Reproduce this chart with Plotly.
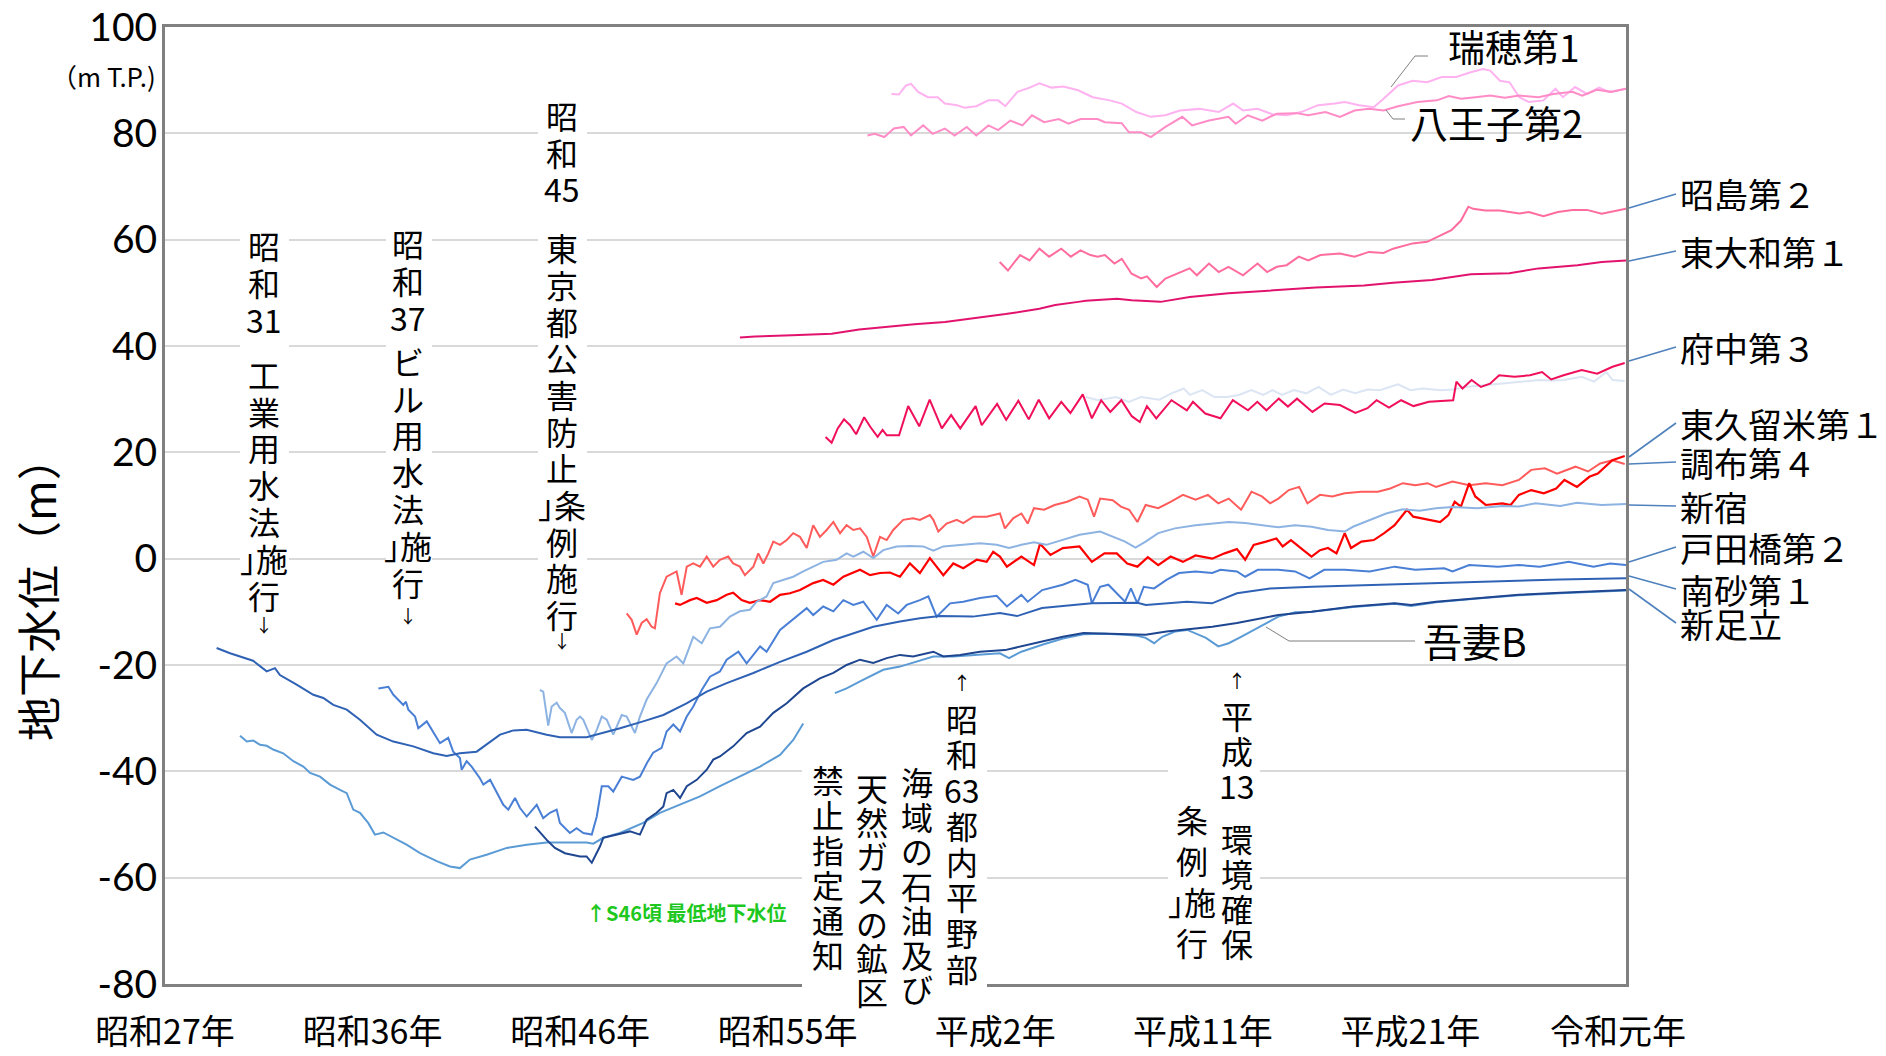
import plotly.graph_objects as go

# ---------------------------------------------------------------------------
# Groundwater level records (year, level in m T.P.) for each observation well
# ---------------------------------------------------------------------------
mizuho_1 = [(1985.50, 87.4), (1985.84, 87.3), (1986.17, 89.0), (1986.40, 89.3), (1986.73, 87.8), (1987.18, 86.8),
            (1987.63, 86.8), (1987.96, 85.6), (1988.52, 85.3), (1988.86, 84.8), (1989.41, 85.1), (1989.97, 86.2),
            (1990.42, 86.2), (1990.75, 85.1), (1991.31, 87.8), (1991.87, 88.6), (1992.32, 89.4), (1992.88, 88.6),
            (1993.43, 88.8), (1994.11, 88.1), (1994.78, 86.8), (1995.56, 86.2), (1996.12, 85.6), (1996.79, 84.0),
            (1997.46, 83.1), (1998.13, 83.4), (1998.80, 84.3), (1999.70, 84.6), (2000.59, 84.0), (2001.26, 85.6),
            (2001.71, 84.3), (2002.38, 84.6), (2003.05, 83.6), (2003.72, 83.4), (2004.39, 84.0), (2005.17, 85.3),
            (2005.95, 85.6), (2006.40, 85.9), (2007.07, 85.3), (2007.74, 84.9), (2008.19, 86.5), (2008.86, 89.0),
            (2009.53, 89.9), (2010.20, 89.6), (2010.87, 90.6), (2011.54, 90.6), (2012.21, 91.5), (2012.77, 92.1),
            (2013.11, 91.8), (2013.56, 89.9), (2014.00, 89.6), (2014.45, 86.8), (2014.89, 85.9), (2015.56, 86.2),
            (2016.12, 88.4), (2016.46, 86.8), (2017.02, 88.7), (2017.57, 87.4), (2018.13, 88.6), (2018.58, 87.8),
            (2019.37, 88.4)]

hachioji_2 = [(1984.39, 79.6), (1984.72, 79.9), (1985.17, 79.3), (1985.61, 80.9), (1986.06, 81.2), (1986.40, 79.6),
              (1986.96, 81.5), (1987.40, 79.9), (1987.96, 80.9), (1988.41, 79.6), (1988.97, 81.2), (1989.41, 79.6),
              (1989.97, 81.5), (1990.42, 80.6), (1990.98, 82.4), (1991.54, 81.5), (1991.98, 83.4), (1992.54, 82.1),
              (1993.21, 82.7), (1993.66, 81.8), (1994.22, 82.7), (1995.00, 82.7), (1995.34, 82.1), (1996.12, 81.9),
              (1996.45, 80.2), (1997.01, 80.2), (1997.46, 79.3), (1998.13, 81.2), (1998.91, 83.1), (1999.36, 81.5),
              (2000.14, 82.4), (2001.04, 83.1), (2001.37, 81.8), (2001.93, 83.4), (2002.60, 82.4), (2003.27, 83.7),
              (2004.17, 83.8), (2004.72, 83.4), (2005.51, 84.0), (2006.18, 83.1), (2006.85, 84.3), (2007.52, 84.6),
              (2008.19, 84.3), (2008.86, 85.1), (2009.75, 85.9), (2010.65, 86.2), (2011.20, 87.0), (2011.76, 86.5),
              (2012.43, 86.8), (2013.11, 87.1), (2013.78, 86.7), (2014.45, 87.1), (2015.34, 86.8), (2016.01, 87.4),
              (2016.90, 87.8), (2017.35, 87.1), (2018.02, 88.2), (2018.69, 87.8), (2019.37, 88.4)]

akishima_2 = [(1990.49, 55.8), (1990.87, 54.2), (1991.43, 57.1), (1991.87, 56.1), (1992.32, 58.3), (1992.77, 56.8),
              (1993.33, 58.3), (1993.77, 56.8), (1994.22, 58.0), (1994.67, 57.1), (1995.00, 56.8), (1995.34, 57.1),
              (1995.78, 55.5), (1996.12, 56.4), (1996.57, 53.6), (1997.01, 52.7), (1997.28, 53.1), (1997.73, 51.1),
              (1998.13, 52.7), (1998.69, 53.6), (1999.25, 54.6), (1999.58, 53.3), (2000.14, 55.5), (2000.59, 53.9),
              (2001.04, 54.9), (2001.71, 53.3), (2002.38, 55.5), (2002.82, 53.9), (2003.27, 54.9), (2003.72, 55.2),
              (2004.28, 56.8), (2004.72, 56.1), (2005.28, 57.1), (2006.18, 57.4), (2006.85, 56.8), (2007.52, 57.7),
              (2008.19, 57.5), (2008.63, 58.3), (2009.53, 59.3), (2010.20, 59.6), (2010.65, 60.5), (2011.32, 61.8),
              (2011.76, 63.6), (2012.10, 66.2), (2012.32, 65.8), (2012.88, 65.5), (2013.55, 65.5), (2014.45, 64.9),
              (2014.89, 65.2), (2015.56, 64.4), (2016.23, 65.2), (2016.90, 65.6), (2017.57, 65.6), (2018.25, 64.9),
              (2019.37, 65.8)]

higashiyamato_1 = [(1978.51, 41.6), (1979.21, 41.8), (1980.91, 42.0), (1982.74, 42.3), (1984.01, 43.1),
                   (1985.14, 43.6), (1986.55, 44.1), (1987.97, 44.5), (1988.86, 45.0), (1989.38, 45.2),
                   (1990.76, 46.0), (1992.32, 47.0), (1993.05, 47.7), (1994.11, 48.3), (1994.46, 48.5),
                   (1995.90, 48.9), (1996.57, 48.6), (1997.91, 48.3), (1999.25, 49.2), (2001.04, 49.9),
                   (2003.05, 50.4), (2005.06, 51.0), (2007.29, 51.4), (2008.63, 51.9), (2010.42, 52.4),
                   (2012.21, 53.5), (2013.99, 53.7), (2015.34, 54.6), (2017.13, 55.2), (2018.25, 55.8),
                   (2019.37, 56.1)]

fuchu_3 = [(1982.46, 22.9), (1982.74, 21.8), (1983.02, 24.5), (1983.31, 26.2), (1983.59, 25.1), (1983.87, 23.4),
           (1984.24, 26.6), (1984.52, 24.8), (1984.86, 22.9), (1985.09, 24.2), (1985.28, 23.2), (1985.85, 23.2),
           (1986.27, 28.7), (1986.78, 24.9), (1987.26, 29.9), (1987.82, 24.5), (1988.25, 27.0), (1988.67, 24.5),
           (1989.38, 28.7), (1989.66, 25.1), (1990.37, 29.1), (1990.79, 26.1), (1991.35, 29.7), (1991.83, 26.2),
           (1992.29, 29.9), (1992.77, 26.4), (1993.33, 29.5), (1993.75, 27.4), (1994.32, 30.9), (1994.74, 26.4),
           (1995.17, 29.8), (1995.59, 27.6), (1996.10, 29.8), (1996.58, 26.8), (1996.95, 25.7), (1997.28, 28.7),
           (1997.71, 26.4), (1998.41, 29.8), (1999.12, 27.9), (1999.40, 29.5), (1999.97, 27.3), (2000.67, 26.4),
           (2001.24, 29.8), (2001.94, 27.9), (2002.37, 29.5), (2002.79, 27.9), (2003.36, 30.1), (2003.78, 28.6),
           (2004.20, 30.1), (2004.91, 27.6), (2005.47, 29.2), (2006.18, 28.9), (2006.89, 27.4), (2007.45, 28.3),
           (2007.87, 29.8), (2008.44, 28.4), (2009.00, 29.8), (2009.57, 28.7), (2010.28, 29.5), (2010.98, 29.7),
           (2011.40, 29.8), (2011.55, 33.3), (2011.83, 32.0), (2012.25, 33.6), (2012.68, 32.3), (2013.10, 32.9),
           (2013.52, 34.5), (2014.23, 34.2), (2014.94, 34.5), (2015.50, 35.1), (2015.92, 33.7), (2016.49, 34.5),
           (2017.33, 35.5), (2018.04, 34.8), (2018.75, 36.1), (2019.31, 36.8)]

pale_well = [(1994.46, 30.4), (1995.03, 29.8), (1995.87, 30.4), (1996.44, 29.5), (1997.00, 30.4), (1997.85, 29.9),
             (1998.41, 31.1), (1998.98, 32.0), (1999.26, 30.8), (1999.83, 31.7), (2000.39, 30.4), (2000.96, 30.4),
             (2001.52, 30.8), (2002.09, 31.7), (2002.65, 30.8), (2003.07, 31.7), (2003.50, 30.8), (2004.06, 31.7),
             (2004.63, 31.1), (2005.19, 32.3), (2005.76, 30.8), (2006.32, 31.8), (2006.89, 31.1), (2007.45, 31.8),
             (2008.02, 31.7), (2008.86, 32.8), (2009.43, 31.7), (2010.00, 32.0), (2010.84, 31.7), (2011.40, 31.8),
             (2011.97, 32.3), (2012.82, 32.6), (2013.67, 32.9), (2014.51, 33.3), (2015.36, 33.6), (2016.07, 33.5),
             (2016.49, 33.6), (2017.33, 34.2), (2017.90, 33.3), (2018.47, 35.1), (2018.75, 33.6), (2019.31, 33.4)]

chofu_4 = [(1973.29, -10.3), (1973.52, -11.5), (1973.75, -14.3), (1973.98, -12.1), (1974.21, -11.4),
           (1974.44, -12.8), (1974.59, -13.1), (1974.82, -6.5), (1975.13, -3.4), (1975.44, -2.7), (1975.59, -2.4),
           (1975.82, -6.8), (1976.06, -1.5), (1976.36, -0.9), (1976.67, -1.5), (1976.98, 0.4), (1977.28, -1.5),
           (1977.59, -0.2), (1977.97, 0.4), (1978.20, -0.9), (1978.51, -1.5), (1978.74, -3.1), (1979.13, -1.5),
           (1979.36, 1.0), (1979.59, -0.9), (1979.82, 1.0), (1980.05, 3.2), (1980.36, 2.6), (1980.67, 3.5),
           (1980.97, 4.8), (1981.28, 4.1), (1981.59, 2.0), (1981.89, 6.3), (1982.20, 4.1), (1982.51, 5.4),
           (1982.82, 6.9), (1983.13, 4.8), (1983.43, 6.3), (1983.74, 5.4), (1984.05, 5.7), (1984.36, 4.1),
           (1984.66, 0.4), (1984.97, 4.1), (1985.28, 3.5), (1985.58, 5.4), (1986.04, 7.3), (1986.50, 7.6),
           (1986.81, 7.3), (1987.27, 8.2), (1987.43, 7.3), (1987.66, 5.1), (1988.04, 6.6), (1988.51, 7.3),
           (1988.81, 6.7), (1989.27, 7.9), (1989.89, 7.9), (1990.50, 8.5), (1990.73, 5.7), (1991.11, 7.6),
           (1991.49, 8.5), (1991.78, 6.6), (1992.07, 9.5), (1992.54, 9.2), (1993.02, 10.1), (1993.60, 10.7),
           (1994.17, 11.7), (1994.55, 11.1), (1994.84, 7.9), (1995.12, 11.3), (1995.70, 11.0), (1996.08, 9.8),
           (1996.46, 9.2), (1996.84, 6.9), (1997.22, 10.1), (1997.80, 9.5), (1998.37, 10.7), (1998.94, 12.0),
           (1999.52, 11.1), (2000.09, 12.0), (2000.57, 10.4), (2001.05, 11.3), (2001.62, 9.2), (2002.10, 12.6),
           (2002.58, 11.7), (2002.96, 10.4), (2003.34, 11.3), (2003.82, 12.9), (2004.30, 13.5), (2004.68, 10.4),
           (2005.26, 12.0), (2005.83, 11.7), (2006.40, 12.3), (2007.17, 12.6), (2007.93, 12.6), (2008.50, 13.2),
           (2009.08, 14.2), (2009.65, 13.8), (2010.22, 14.2), (2010.61, 13.5), (2011.37, 14.5), (2012.14, 13.8),
           (2012.90, 14.2), (2013.67, 13.8), (2014.43, 14.8), (2015.00, 16.7), (2015.63, 17.0), (2016.19, 16.0),
           (2017.04, 17.3), (2017.62, 16.4), (2018.18, 17.9), (2018.74, 18.5), (2019.31, 17.8)]

higashikurume_1 = [(1975.52, -8.4), (1975.75, -8.7), (1976.21, -7.8), (1976.52, -7.4), (1976.98, -8.3),
                   (1977.44, -7.8), (1977.90, -6.8), (1978.20, -6.4), (1978.59, -7.8), (1978.97, -8.3),
                   (1979.44, -7.8), (1979.90, -8.1), (1980.36, -6.8), (1980.82, -6.5), (1981.28, -5.9),
                   (1981.59, -5.3), (1981.89, -4.6), (1982.35, -4.0), (1982.82, -4.9), (1983.28, -3.4),
                   (1983.74, -2.7), (1984.05, -2.1), (1984.51, -3.1), (1984.97, -2.7), (1985.43, -2.6),
                   (1985.89, -3.4), (1986.35, -0.9), (1986.81, -2.7), (1987.27, 0.1), (1987.89, -3.1),
                   (1988.35, -0.9), (1988.81, -1.8), (1989.43, -0.2), (1989.89, -0.6), (1990.19, 1.3),
                   (1990.50, 0.4), (1990.82, -1.5), (1991.49, 0.4), (1992.07, -1.2), (1992.35, 2.8),
                   (1992.83, 0.7), (1993.40, 2.0), (1994.17, 2.3), (1994.74, -0.6), (1995.32, 1.0),
                   (1995.89, 1.0), (1996.37, -0.9), (1996.84, -1.5), (1997.32, 0.3), (1997.80, -1.2),
                   (1998.37, 0.4), (1998.94, -0.6), (1999.52, 0.6), (2000.29, 0.0), (2000.86, 1.0),
                   (2001.43, 1.8), (2001.81, -0.2), (2002.20, 2.6), (2002.77, 3.2), (2003.25, 3.8),
                   (2003.54, 2.3), (2003.92, 3.5), (2004.49, 1.6), (2004.87, 0.4), (2005.26, 1.6),
                   (2005.63, 2.0), (2006.02, 1.0), (2006.40, 4.8), (2006.69, 2.0), (2007.17, 3.2),
                   (2007.74, 3.5), (2008.22, 4.8), (2008.70, 6.3), (2009.27, 9.2), (2009.56, 7.9),
                   (2010.22, 7.3), (2010.80, 6.9), (2011.18, 8.2), (2011.47, 10.7), (2011.76, 9.8),
                   (2012.14, 14.2), (2012.42, 11.7), (2012.90, 10.1), (2013.67, 10.4), (2014.05, 10.1),
                   (2014.43, 12.0), (2015.00, 12.9), (2015.58, 12.3), (2016.15, 13.2), (2016.53, 14.8),
                   (2017.11, 13.5), (2017.68, 15.4), (2018.07, 16.0), (2018.74, 18.5), (2019.31, 19.3)]

shinjuku = [(1969.29, -24.7), (1969.44, -25.0), (1969.67, -31.4), (1969.83, -27.8), (1970.06, -27.1),
            (1970.21, -28.1), (1970.44, -29.0), (1970.75, -32.8), (1970.98, -30.3), (1971.14, -29.7),
            (1971.29, -30.3), (1971.68, -34.1), (1971.91, -32.2), (1972.14, -29.7), (1972.37, -30.3),
            (1972.67, -33.1), (1973.06, -29.4), (1973.29, -29.7), (1973.67, -32.8), (1973.90, -29.7),
            (1974.21, -26.5), (1974.67, -23.4), (1975.13, -19.7), (1975.59, -18.4), (1975.90, -19.7),
            (1976.36, -14.7), (1976.75, -15.9), (1977.13, -13.1), (1977.59, -12.8), (1978.05, -10.9),
            (1978.51, -9.9), (1978.97, -9.6), (1979.28, -8.1), (1979.74, -7.1), (1980.05, -4.6),
            (1980.51, -4.0), (1980.97, -3.4), (1981.43, -2.4), (1981.89, -1.5), (1982.35, -0.6),
            (1982.97, -0.2), (1983.43, 1.0), (1983.74, 0.4), (1984.20, 1.3), (1984.66, 0.1), (1985.12, 1.6),
            (1985.74, 2.3), (1986.35, 2.4), (1986.97, 2.3), (1987.43, 1.5), (1987.89, 2.3), (1988.66, 2.6),
            (1989.58, 2.9), (1990.35, 2.6), (1990.92, 2.0), (1991.49, 2.6), (1992.07, 3.1), (1992.64, 2.6),
            (1993.40, 3.5), (1994.17, 4.5), (1995.12, 5.1), (1995.70, 4.1), (1996.27, 3.2), (1996.75, 2.1),
            (1997.22, 3.2), (1997.80, 4.8), (1998.57, 5.7), (1999.52, 6.3), (2000.29, 6.6), (2001.05, 6.9),
            (2001.81, 6.7), (2002.58, 6.3), (2003.34, 5.9), (2004.11, 6.3), (2004.87, 6.0), (2005.63, 5.4),
            (2006.40, 5.1), (2006.78, 6.0), (2007.55, 7.3), (2008.31, 8.5), (2009.08, 9.3), (2009.85, 9.0),
            (2010.61, 9.5), (2011.37, 9.7), (2012.52, 9.5), (2013.67, 9.9), (2014.43, 9.8), (2015.20, 10.4),
            (2016.34, 9.9), (2017.11, 10.5), (2018.25, 10.1), (2019.37, 10.3)]

todabashi_2 = [(1961.84, -24.4), (1962.30, -24.1), (1962.53, -25.6), (1962.99, -27.5), (1963.11, -26.9),
               (1963.22, -28.4), (1963.53, -29.7), (1963.68, -31.9), (1964.07, -30.6), (1964.37, -32.5),
               (1964.68, -34.7), (1965.06, -33.7), (1965.29, -36.3), (1965.60, -37.5), (1965.68, -39.7),
               (1965.91, -38.1), (1966.14, -39.1), (1966.52, -41.3), (1966.68, -42.5), (1966.99, -41.6),
               (1967.14, -42.8), (1967.60, -46.3), (1967.83, -47.2), (1968.14, -45.0), (1968.37, -46.9),
               (1968.68, -48.5), (1969.14, -46.3), (1969.44, -48.8), (1969.75, -47.8), (1970.06, -47.2),
               (1970.21, -49.7), (1970.67, -51.6), (1970.98, -50.7), (1971.29, -51.6), (1971.68, -51.9),
               (1971.91, -48.5), (1972.14, -42.8), (1972.44, -42.8), (1972.67, -43.8), (1973.06, -41.0),
               (1973.59, -41.6), (1973.90, -41.0), (1974.23, -38.4), (1974.51, -36.5), (1974.90, -35.6),
               (1975.13, -32.5), (1975.44, -31.2), (1975.75, -32.5), (1976.06, -29.7), (1976.36, -27.8),
               (1976.75, -24.7), (1977.13, -22.2), (1977.59, -21.2), (1977.90, -19.0), (1978.44, -17.5),
               (1978.82, -19.7), (1979.44, -16.5), (1979.74, -17.5), (1980.36, -13.4), (1980.82, -11.8),
               (1981.28, -10.3), (1981.59, -9.3), (1981.89, -10.6), (1982.35, -9.0), (1982.82, -9.9),
               (1983.28, -7.8), (1983.74, -8.7), (1984.20, -8.1), (1984.82, -11.5), (1985.28, -8.7),
               (1985.81, -10.3), (1986.20, -8.7), (1986.81, -7.8), (1987.20, -7.1), (1987.58, -10.9),
               (1988.20, -8.4), (1988.81, -8.1), (1989.58, -7.4), (1990.35, -7.0), (1990.82, -9.0),
               (1991.49, -6.8), (1991.78, -8.1), (1992.45, -5.9), (1993.40, -4.9), (1993.98, -4.0),
               (1994.55, -4.9), (1994.74, -8.4), (1995.12, -5.3), (1995.50, -4.9), (1996.27, -8.1),
               (1996.54, -5.6), (1996.84, -8.4), (1997.13, -5.3), (1997.61, -5.6), (1998.18, -4.0),
               (1998.76, -2.7), (1999.52, -2.4), (2000.29, -2.7), (2000.67, -2.1), (2001.43, -2.4),
               (2001.81, -3.4), (2002.39, -2.1), (2003.34, -2.1), (2004.11, -2.4), (2004.78, -3.7),
               (2005.45, -2.1), (2006.40, -2.1), (2007.55, -2.4), (2008.70, -1.5), (2009.65, -2.1),
               (2010.99, -1.8), (2011.37, -2.4), (2012.14, -1.2), (2013.47, -1.5), (2014.43, -1.2),
               (2015.39, -1.5), (2016.73, -0.6), (2017.87, -1.5), (2018.64, -0.9), (2019.37, -1.2)]

minamisuna_1 = [(1954.38, -16.8), (1955.00, -17.8), (1956.06, -19.2), (1956.69, -21.2), (1957.07, -20.6),
                (1957.30, -21.9), (1958.07, -23.7), (1958.84, -25.6), (1959.30, -26.2), (1959.76, -27.5),
                (1960.38, -28.4), (1960.99, -30.3), (1961.76, -33.1), (1962.53, -34.4), (1963.45, -35.3),
                (1964.37, -36.6), (1964.99, -37.1), (1965.60, -36.6), (1966.37, -36.3), (1966.83, -35.0),
                (1967.45, -33.1), (1968.06, -32.3), (1968.68, -32.2), (1969.60, -33.1), (1970.21, -33.6),
                (1971.44, -33.6), (1972.21, -32.8), (1972.98, -31.9), (1974.05, -30.6), (1974.98, -29.4),
                (1976.05, -27.2), (1976.98, -25.0), (1977.90, -23.4), (1979.13, -21.5), (1980.36, -19.4),
                (1981.59, -17.5), (1982.82, -15.3), (1983.74, -14.0), (1984.66, -12.8), (1985.89, -11.8),
                (1986.81, -11.2), (1987.74, -10.8), (1989.25, -10.9), (1990.50, -10.2), (1991.29, -10.8),
                (1992.44, -9.3), (1994.74, -8.4), (1996.84, -8.3), (1997.23, -8.7), (1999.12, -8.1),
                (2000.28, -8.4), (2001.43, -6.5), (2002.95, -5.6), (2004.89, -5.3), (2008.71, -4.8),
                (2012.54, -4.3), (2016.32, -3.9), (2019.37, -3.7)]

shinadachi = [(1969.06, -50.4), (1969.60, -52.9), (1969.98, -54.4), (1970.44, -55.4), (1971.14, -56.0),
              (1971.44, -56.0), (1971.68, -57.2), (1972.06, -54.1), (1972.21, -52.5), (1972.98, -51.8),
              (1973.44, -51.3), (1973.90, -51.9), (1974.21, -49.1), (1974.67, -47.8), (1974.98, -46.6),
              (1975.13, -44.1), (1975.44, -43.5), (1975.75, -45.0), (1976.06, -42.8), (1976.52, -41.6),
              (1976.98, -39.7), (1977.28, -37.8), (1977.59, -37.2), (1978.20, -35.3), (1978.82, -32.8),
              (1979.44, -31.6), (1980.05, -29.0), (1980.67, -27.2), (1981.43, -24.4), (1982.20, -22.5),
              (1982.82, -21.5), (1983.43, -20.0), (1984.05, -19.0), (1984.66, -19.6), (1985.28, -18.7),
              (1985.89, -18.1), (1986.50, -18.4), (1987.43, -17.5), (1987.89, -18.4), (1988.66, -18.1),
              (1989.58, -17.5), (1990.73, -17.2), (1991.49, -16.5), (1992.45, -15.6), (1993.40, -14.7),
              (1994.36, -14.0), (1995.32, -14.1), (1996.27, -14.3), (1997.22, -14.3), (1998.18, -13.7),
              (1999.14, -13.3), (2000.29, -12.8), (2001.43, -12.1), (2002.58, -11.2), (2003.34, -10.6),
              (2004.87, -10.0), (2006.78, -9.0), (2008.70, -8.4), (2009.46, -8.7), (2010.61, -8.1),
              (2011.57, -7.8), (2012.52, -7.4), (2014.43, -6.8), (2016.34, -6.4), (2017.87, -6.2),
              (2019.37, -5.9)]

azuma_b = [(1955.46, -33.3), (1955.77, -34.4), (1956.07, -34.2), (1956.38, -35.0), (1956.69, -35.2),
           (1956.99, -35.9), (1957.45, -36.6), (1957.92, -38.1), (1958.38, -39.1), (1958.69, -40.3),
           (1959.15, -41.0), (1959.61, -42.5), (1960.07, -43.5), (1960.38, -44.1), (1960.68, -47.2),
           (1960.99, -47.8), (1961.37, -49.7), (1961.68, -51.9), (1962.07, -51.5), (1962.53, -52.5),
           (1963.14, -53.8), (1963.76, -55.4), (1964.53, -56.9), (1965.14, -57.9), (1965.60, -58.2),
           (1966.06, -56.6), (1966.83, -55.7), (1967.76, -54.4), (1968.68, -53.8), (1969.60, -53.4),
           (1970.52, -53.4), (1971.44, -53.4), (1971.75, -53.6), (1972.21, -52.5), (1972.98, -51.6),
           (1974.05, -49.7), (1974.82, -47.8), (1975.75, -46.3), (1976.67, -44.7), (1977.59, -42.8),
           (1978.51, -40.9), (1979.44, -39.1), (1980.36, -36.9), (1980.97, -34.1), (1981.43, -31.0),
           (1982.10, None),
           (1982.89, -25.3), (1983.43, -24.4), (1984.05, -23.1), (1984.51, -22.2), (1985.12, -20.9),
           (1985.89, -20.3), (1986.66, -19.4), (1987.43, -18.4), (1988.35, -18.4), (1989.27, -18.1),
           (1990.50, -17.8), (1990.92, -18.7), (1991.49, -17.5), (1992.45, -16.2), (1993.40, -15.0),
           (1994.36, -14.2), (1995.32, -14.1), (1996.27, -14.3), (1996.84, -14.5), (1997.22, -14.9),
           (1997.61, -15.9), (1997.99, -14.7), (1998.57, -13.7), (1999.14, -13.4), (1999.52, -14.0),
           (2000.00, -14.9), (2000.57, -16.5), (2001.05, -15.9), (2001.62, -14.7), (2002.20, -13.4),
           (2002.77, -12.1), (2003.34, -10.9), (2004.11, -10.1), (2004.87, -10.0), (2006.78, -9.1),
           (2008.70, -8.5), (2009.46, -8.9), (2010.61, -8.2), (2012.52, -7.5), (2014.43, -6.9),
           (2016.34, -6.5), (2017.87, -6.3), (2019.37, -6.0)]

# era labels along the time axis
era_labels = ["昭和27年", "昭和36年", "昭和46年", "昭和55年", "平成2年", "平成11年", "平成21年", "令和元年"]
era_first_year, era_last_year = 1952, 2019

# level axis ticks
level_ticks = [-80, -60, -40, -20, 0, 20, 40, 60, 80, 100]
level_tick_text = ["-80", "-60", "-40", "-20", "0", "20", "40", "60", "80", "100"]

# ---------------------------------------------------------------------------
# Figure geometry (pixels) and helpers to place layout items
# ---------------------------------------------------------------------------
W, H = 1886, 1056
PL, PR, PT, PB = 165, 1626, 27, 984
FONT = "Noto Sans CJK JP"


def px(x):
    return (x - PL) / (PR - PL)


def py(y):
    return (PB - y) / (PB - PT)


fig = go.Figure()

wells = [
    (mizuho_1, "#FFB2F0", 2.0),
    (hachioji_2, "#FF8CC6", 2.0),
    (akishima_2, "#FF6C9E", 2.0),
    (higashiyamato_1, "#E2136E", 2.0),
    (pale_well, "#DBE5F3", 2.0),
    (fuchu_3, "#F0105A", 2.0),
    (chofu_4, "#FF5B5B", 2.0),
    (higashikurume_1, "#FF0000", 2.2),
    (shinjuku, "#8DB3E2", 2.0),
    (todabashi_2, "#4A7FD6", 2.0),
    (minamisuna_1, "#2F62B5", 2.0),
    (azuma_b, "#5B9BD5", 2.0),
    (shinadachi, "#1F4690", 2.0),
]
for pts, color, width in wells:
    fig.add_trace(go.Scatter(
        x=[p[0] for p in pts], y=[p[1] for p in pts], mode="lines",
        line=dict(color=color, width=width), connectgaps=False,
        hoverinfo="skip", showlegend=False))

annotations = []
shapes = []


def text(s, x, y, size, anchor="left", color="black", angle=0, bold=False):
    annotations.append(dict(
        text=s, x=px(x), y=py(y), xref="paper", yref="paper", showarrow=False,
        xanchor=anchor, yanchor="middle", textangle=angle,
        font=dict(family=FONT, size=size, color=color, weight="bold" if bold else "normal")))


def seg(x0, y0, x1, y1, color, width):
    shapes.append(dict(type="line", xref="paper", yref="paper",
                       x0=px(x0), y0=py(y0), x1=px(x1), y1=py(y1),
                       line=dict(color=color, width=width), layer="above"))


def blank(x0, y0, x1, y1):
    shapes.append(dict(type="rect", xref="paper", yref="paper",
                       x0=px(x0), y0=py(y0), x1=px(x1), y1=py(y1),
                       fillcolor="white", line=dict(width=0), layer="above"))


def column(items, x, y0, pitch, size=32):
    # vertical note drawn one glyph group per row; a float adds that fraction of a row
    y = y0
    for it in items:
        if isinstance(it, float):
            y += it * pitch
            continue
        fs = 18 if it in ("↓", "↑") else size
        annotations.append(dict(
            text=it, x=px(x), y=py(y), xref="paper", yref="paper", showarrow=False,
            xanchor="center", yanchor="middle", font=dict(family=FONT, size=fs, color="black")))
        y += pitch


# white panels behind the vertical notes
blank(240, 222, 289, 648)
blank(386, 222, 432, 640)
blank(538, 92, 587, 655)
blank(945, 668, 987, 1004)
blank(802, 757, 945, 1004)
blank(1168, 668, 1260, 965)

# vertical notes on policy milestones
column(["昭", "和", "31", 0.5, "工", "業", "用", "水", "法", "｣施", "行", -0.2, "↓"], 264, 245, 36.8)
column(["昭", "和", "37", 0.2, "ビ", "ル", "用", "水", "法", "｣施", "行", -0.1, "↓"], 408, 243, 36.8)
column(["昭", "和", "45", 0.6, "東", "京", "都", "公", "害", "防", "止", "｣条", "例", "施", "行", -0.3, "↓"],
       562, 115, 36.7)
column(["↑", "昭", "和", "63", "都", "内", "平", "野", "部"], 962, 682, 35.7)
column(["海", "域", "の", "石", "油", "及", "び"], 917, 781, 34.5)
column(["天", "然", "ガ", "ス", "の", "鉱", "区"], 872, 787, 34.0)
column(["禁", "止", "指", "定", "通", "知"], 828, 779, 35.0)
column(["↑", "平", "成", "13", 0.5, "環", "境", "確", "保"], 1237, 680, 35.0)
column(["条", "例", "｣施", "行"], 1192, 819, 41.0)

text("↑S46頃 最低地下水位", 686, 912, 20, anchor="center", color="#1FC81F", bold=True)

# axis captions
text("地下水位（m）", 37, 589, 44, anchor="center", angle=-90)
text("（m T.P.)", 158, 75, 26, anchor="right")

# well names with leader lines
leader_blue = "#4F81BD"
right_names = [
    ("昭島第２", 208, 194), ("東大和第１", 261, 251), ("府中第３", 361, 347),
    ("東久留米第１", 457, 423), ("調布第４", 464, 462), ("新宿", 505, 506),
    ("戸田橋第２", 562, 547), ("南砂第１", 576, 589), ("新足立", 589, 623),
]
for name, y_start, y_text in right_names:
    seg(1629, y_start, 1676, y_text, leader_blue, 1.6)
    text(name, 1678, y_text, 34)

gray = "#7F7F7F"
seg(1391, 87, 1415, 56, gray, 1)
seg(1415, 56, 1428, 56, gray, 1)
text("瑞穂第1", 1446, 46, 37)
seg(1386, 110, 1393, 119, gray, 1)
seg(1393, 119, 1405, 119, gray, 1)
text("八王子第2", 1408, 121, 38)
seg(1266, 627, 1289, 641, gray, 1)
seg(1289, 641, 1415, 641, gray, 1)
text("吾妻B", 1421, 640, 39)

step = (era_last_year - era_first_year) / (len(era_labels) - 1)
tick_positions = [era_first_year + i * step for i in range(len(era_labels))]

fig.update_layout(
    width=W, height=H,
    margin=dict(l=PL, r=W - PR, t=PT, b=H - PB, pad=0, autoexpand=False),
    paper_bgcolor="white", plot_bgcolor="white",
    font=dict(family=FONT, color="black"),
    xaxis=dict(range=[1952, 2019.37], tickvals=tick_positions, ticktext=era_labels,
               showgrid=False, zeroline=False, showline=True, mirror=True,
               linecolor="#808080", linewidth=3, ticks="", ticklabelstandoff=16,
               automargin=False, ticklabeloverflow="allow",
               tickfont=dict(size=34, family=FONT, color="black")),
    yaxis=dict(range=[-80, 100], tickvals=level_ticks, ticktext=level_tick_text,
               showgrid=True, gridcolor="#D9D9D9",
               gridwidth=1.5, zeroline=False, showline=True, mirror=True,
               linecolor="#808080", linewidth=3, ticks="", ticklabelstandoff=-3,
               automargin=False, ticklabeloverflow="allow",
               tickfont=dict(size=39, family="Lato", color="black")),
    annotations=annotations,
    shapes=shapes,
    showlegend=False,
)

fig.write_html("out.html")
